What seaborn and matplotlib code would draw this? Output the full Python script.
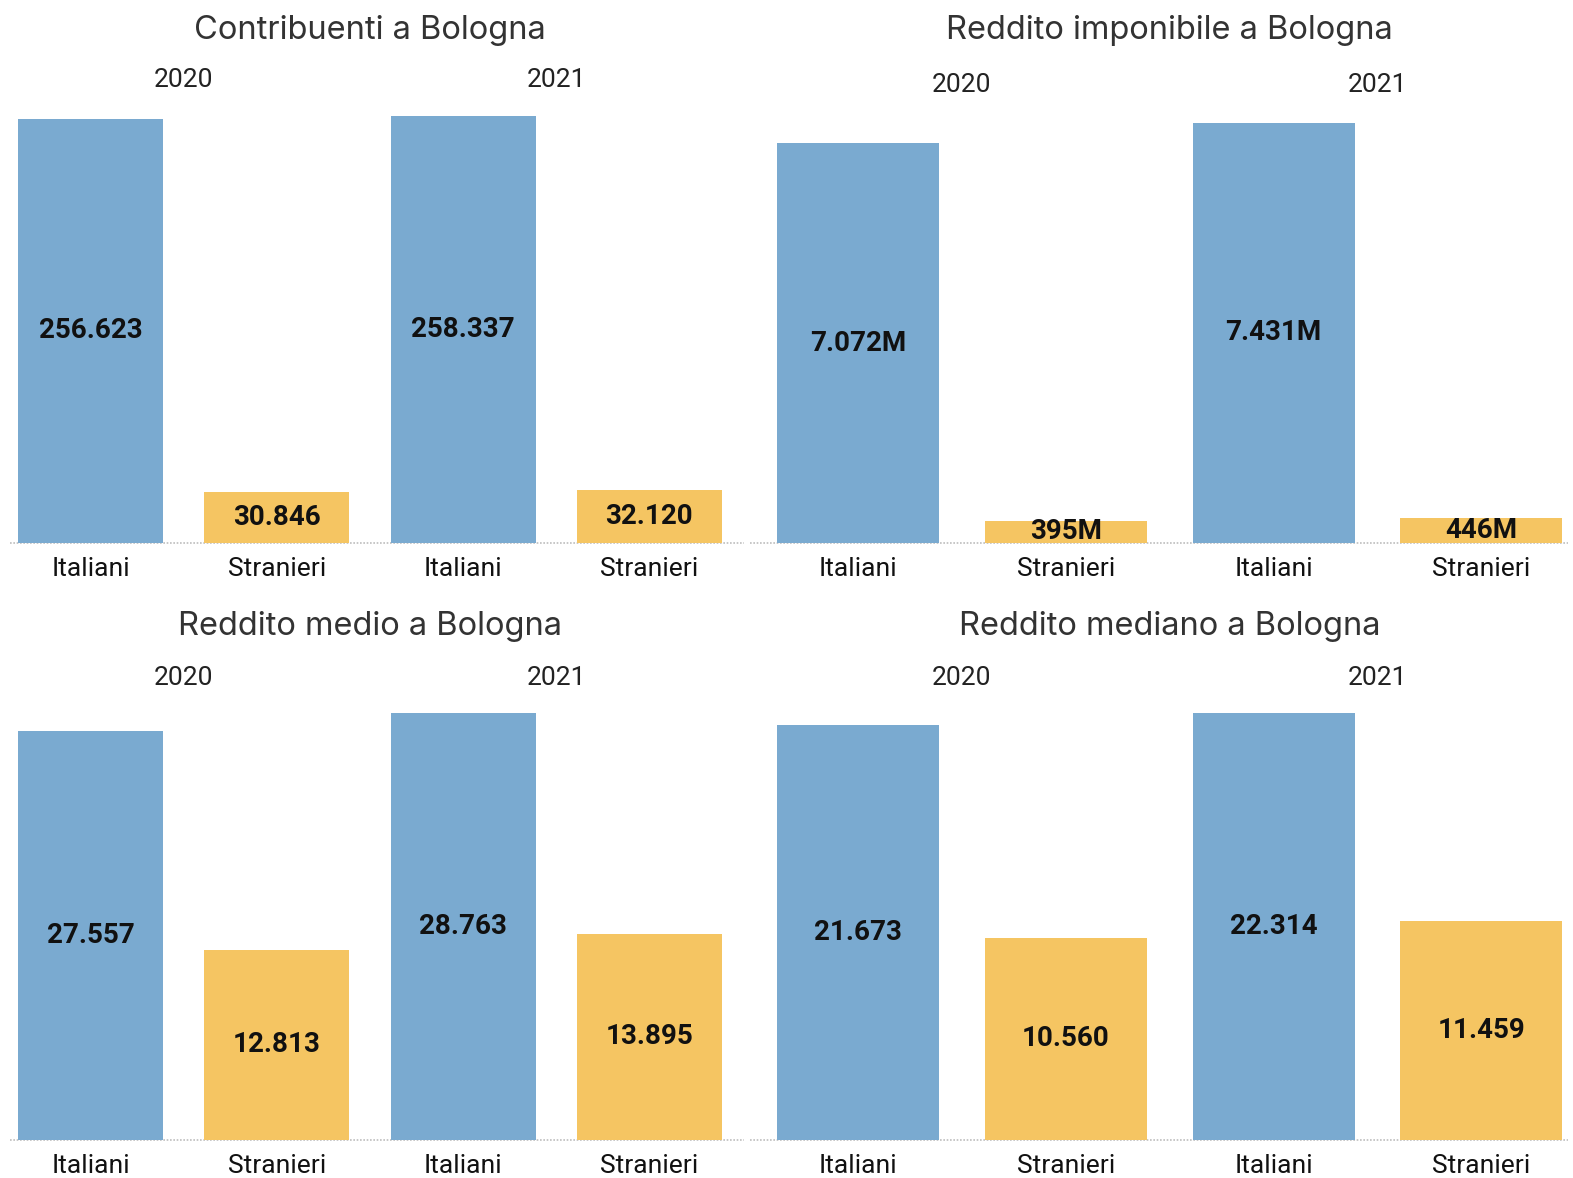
import matplotlib
matplotlib.use("Agg")
import matplotlib.pyplot as plt
import matplotlib.transforms as mtransforms
import seaborn as sns
import pandas as pd

# ---- data ----
anni = ["2020", "2021"]
gruppi = ["Italiani", "Stranieri"]
titoli = ["Contribuenti a Bologna", "Reddito imponibile a Bologna",
          "Reddito medio a Bologna", "Reddito mediano a Bologna"]
contribuenti = [256623, 30846, 258337, 32120]
reddito_imponibile_mln = [7072, 395, 7431, 446]
reddito_medio = [27557, 12813, 28763, 13895]
reddito_mediano = [21673, 10560, 22314, 11459]
etichette_contribuenti = ["256.623", "30.846", "258.337", "32.120"]
etichette_imponibile = ["7.072M", "395M", "7.431M", "446M"]
etichette_medio = ["27.557", "12.813", "28.763", "13.895"]
etichette_mediano = ["21.673", "10.560", "22.314", "11.459"]

BLUE = "#7aaad0"
YELLOW = "#f5c562"

sns.set_theme(style="white")
plt.rcParams['font.family'] = ['Roboto', 'DejaVu Sans']

W, H = 1573, 1178
fig = plt.figure(figsize=(W / 100, H / 100), dpi=100)
fig.patch.set_facecolor("white")


def rect(x0, x1, ytop, ybot):
    return [x0 / W, 1 - ybot / H, (x1 - x0) / W, (ybot - ytop) / H]


# layout per panel: (x0, x1, ytop, ybot, first bar centre px, spacing px, bar width px, max bar px height, title y, year y)
layout = [
    (10, 744, 100, 543, 90.5, 186.3, 145, 427, 30, 80),
    (750, 1568, 100, 543, 858.0, 207.8, 162, 420, 30, 85),
    (10, 744, 697, 1140, 90.5, 186.3, 145, 427, 627, 678),
    (750, 1568, 697, 1140, 858.0, 207.8, 162, 427, 627, 678),
]
serie = [contribuenti, reddito_imponibile_mln, reddito_medio, reddito_mediano]
etichette = [etichette_contribuenti, etichette_imponibile, etichette_medio, etichette_mediano]

for k in range(4):
    x0, x1, ytop, ybot, c0, sp, bw, maxpx, ty, yy = layout[k]
    ax = fig.add_axes(rect(x0, x1, ytop, ybot))
    valori = serie[k]
    chiavi = [f"{a} {g}" for a in anni for g in gruppi]
    df = pd.DataFrame({
        "pos": chiavi,
        "gruppo": [g for a in anni for g in gruppi],
        "valore": valori,
    })
    sns.barplot(data=df, x="pos", y="valore", hue="gruppo",
                palette={"Italiani": BLUE, "Stranieri": YELLOW},
                order=chiavi, hue_order=gruppi, dodge=False,
                width=bw / sp, saturation=1, linewidth=0,
                legend=False, ax=ax)
    ax.set_xlim((x0 - c0) / sp, (x1 - c0) / sp)
    ax.set_ylim(0, max(valori) * (ybot - ytop) / maxpx)
    for s in ax.spines.values():
        s.set_visible(False)
    ax.set_yticks([])
    ax.set_ylabel("")
    ax.set_xlabel("")
    ax.set_xticks(range(4))
    ax.set_xticklabels([g for a in anni for g in gruppi], fontsize=19, color="#111111")
    ax.tick_params(axis="x", length=0, pad=10)
    ax.axhline(0, color="#bdbdbd", lw=1.2, ls=(0, (1, 1)), clip_on=False, zorder=0)
    ax.set_facecolor("none")
    for i, (v, lab) in enumerate(zip(valori, etichette[k])):
        ax.text(i, v / 2, lab, ha="center", va="center", fontsize=20,
                fontweight="bold", color="#111111")
    trans = mtransforms.blended_transform_factory(ax.transData, fig.transFigure)
    for j, a in enumerate(anni):
        ax.text(2 * j + 0.5, 1 - yy / H, a, transform=trans, ha="center", va="center",
                fontsize=19, color="#222222")
    # title centred over bars
    left_px = c0 - bw / 2
    right_px = c0 + 3 * sp + bw / 2
    fig.text(((left_px + right_px) / 2) / W, 1 - ty / H, titoli[k], ha="center", va="center",
             fontsize=23.5, color="#333333", family=["Inter", "DejaVu Sans"])

fig.savefig("out.png", dpi=100, facecolor="white")
